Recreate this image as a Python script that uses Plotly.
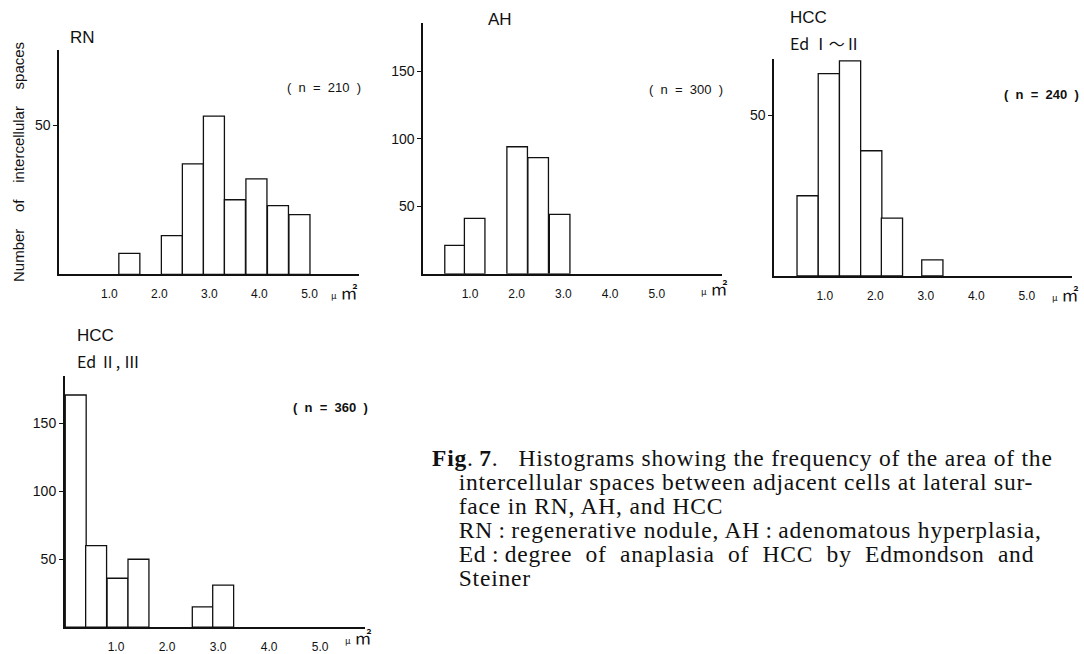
import plotly.graph_objects as go

W, H = 1084, 654

# ---- data ----
rn_centers = [1.40, 2.25, 2.67, 3.09, 3.51, 3.94, 4.37, 4.80]
rn_counts = [7, 13, 37, 53, 25, 32, 23, 20]

ah_centers = [0.68, 1.10, 2.01, 2.46, 2.92]
ah_counts = [21, 41, 94, 86, 44]

hcc1_centers = [0.66, 1.08, 1.50, 1.92, 2.33, 3.13]
hcc1_counts = [25, 63, 67, 39, 18, 5]

hcc2_centers = [0.21, 0.61, 1.03, 1.44, 2.70, 3.10]
hcc2_counts = [171, 60, 36, 50, 15, 31]

x_tick_vals = [1, 2, 3, 4, 5]
x_tick_text = ["1.0", "2.0", "3.0", "4.0", "5.0"]

panels = [
    dict(centers=rn_centers, counts=rn_counts, bw=0.42, xpx=(59.3, 359), ypx=(276, 50),
         xmax=5.99, ymax=75.3, yticks=[50]),
    dict(centers=ah_centers, counts=ah_counts, bw=0.44, xpx=(423.3, 721.7), ypx=(275.5, 23.3),
         xmax=6.39, ymax=185.4, yticks=[50, 100, 150]),
    dict(centers=hcc1_centers, counts=hcc1_counts, bw=0.42, xpx=(774.3, 1071.7), ypx=(277.7, 59.3),
         xmax=5.89, ymax=67.6, yticks=[50]),
    dict(centers=hcc2_centers, counts=hcc2_counts, bw=0.41, xpx=(65, 365), ypx=(631, 378.3),
         xmax=5.88, ymax=185, yticks=[50, 100, 150]),
]

fig = go.Figure()
layout = dict(
    width=W, height=H, margin=dict(l=0, r=0, t=0, b=0),
    paper_bgcolor="white", plot_bgcolor="white", showlegend=False,
)

def px(x):
    return x / W

def py(y):
    return 1 - y / H

for i, p in enumerate(panels):
    k = "" if i == 0 else str(i + 1)
    fig.add_trace(go.Bar(
        x=p["centers"], y=p["counts"], width=p["bw"],
        marker=dict(color="white", line=dict(color="#111", width=1.3)),
        xaxis="x" + k, yaxis="y" + k, hoverinfo="x+y",
    ))
    layout["xaxis" + k] = dict(
        domain=[px(p["xpx"][0]), px(p["xpx"][1])], range=[0, p["xmax"]],
        anchor="y" + k, showline=True, linecolor="#111", linewidth=1.5,
        showgrid=False, zeroline=False, ticks="", tickvals=x_tick_vals,
        ticktext=x_tick_text, ticklabelstandoff=8,
        tickfont=dict(family="Liberation Sans, Arial", size=12, color="#111"),
    )
    layout["yaxis" + k] = dict(
        domain=[py(p["ypx"][0]), py(p["ypx"][1])], range=[0, p["ymax"]],
        anchor="x" + k, showline=True, linecolor="#111", linewidth=2,
        showgrid=False, zeroline=False, ticks="outside", ticklen=4, tickwidth=1,
        tickcolor="#111", tickvals=p["yticks"],
        tickfont=dict(family="Liberation Sans, Arial", size=14, color="#111"),
    )

fig.update_layout(**layout)

ann = []
def text(x, y, s, size=16, xanchor="left", family="Liberation Sans, Arial", angle=0,
         yanchor="middle", align="left"):
    ann.append(dict(x=px(x), y=py(y), xref="paper", yref="paper", text=s,
                    showarrow=False, xanchor=xanchor, yanchor=yanchor, align=align,
                    textangle=angle, font=dict(family=family, size=size, color="#111")))

cjk = "Noto Sans CJK JP"
nb = "\u00a0"
# panel titles
text(68, 38, "RN", 17)
text(486, 20, "AH", 17)
text(788, 18, "HCC", 17)
text(788, 43, "Ed Ⅰ～Ⅱ", 16, family=cjk)
text(75, 338, "HCC", 17)
text(75, 363, "Ed Ⅱ, Ⅲ", 16, family=cjk)

# n labels
def nlab(n):
    return "(" + nb + " n" + nb + " =" + nb + " " + n + nb + " )"
text(285, 88, nlab("210"), 13)
text(647, 90, nlab("300"), 13)
text(1002, 95, "<b>" + nlab("240") + "</b>", 13)
text(291, 410, "<b>" + nlab("360") + "</b>", 13)

# unit labels
unit = "<span style='font-size:9px'>μ</span> ㎡"
for (ux, uy) in [(329, 293), (699, 289), (1050, 295), (343, 640)]:
    text(ux, uy, unit, 17, family=cjk)

# y axis title
sp = nb * 4
text(18, 163, "Number" + sp + "of" + sp + "intercellular" + sp + "spaces", 15, xanchor="center", angle=-90)

# caption (one multi-line text block; line pitch from the base size, glyphs larger)
cap = "Liberation Serif, Times New Roman"
st = "<span style='font-size:23.5px;letter-spacing:0.8px'>{}</span>"
ind = nb * 4
cap_lines = [
    "<b>Fig</b>.\u2009<b>7</b>." + nb * 3 + "Histograms showing the frequency of the area of the",
    ind + "intercellular spaces between adjacent cells at lateral sur-",
    ind + "face in RN, AH, and HCC",
    ind + "RN\u2009:\u2009regenerative nodule, AH\u2009:\u2009adenomatous hyperplasia,",
    ind + "Ed\u2009:\u2009degree" + nb + " of" + nb + " anaplasia" + nb + " of" + nb + " HCC"
        + nb + " by" + nb + " Edmondson" + nb + " and",
    ind + "Steiner",
]
caption = "<br>".join(st.format(s) for s in cap_lines)
text(430, 521, caption, 18.5, family=cap)

fig.update_layout(annotations=ann)
fig.write_html(
    "out.html",
    config={"displayModeBar": False},
    post_script="document.body.style.margin='0';document.body.style.overflow='hidden';",
)
